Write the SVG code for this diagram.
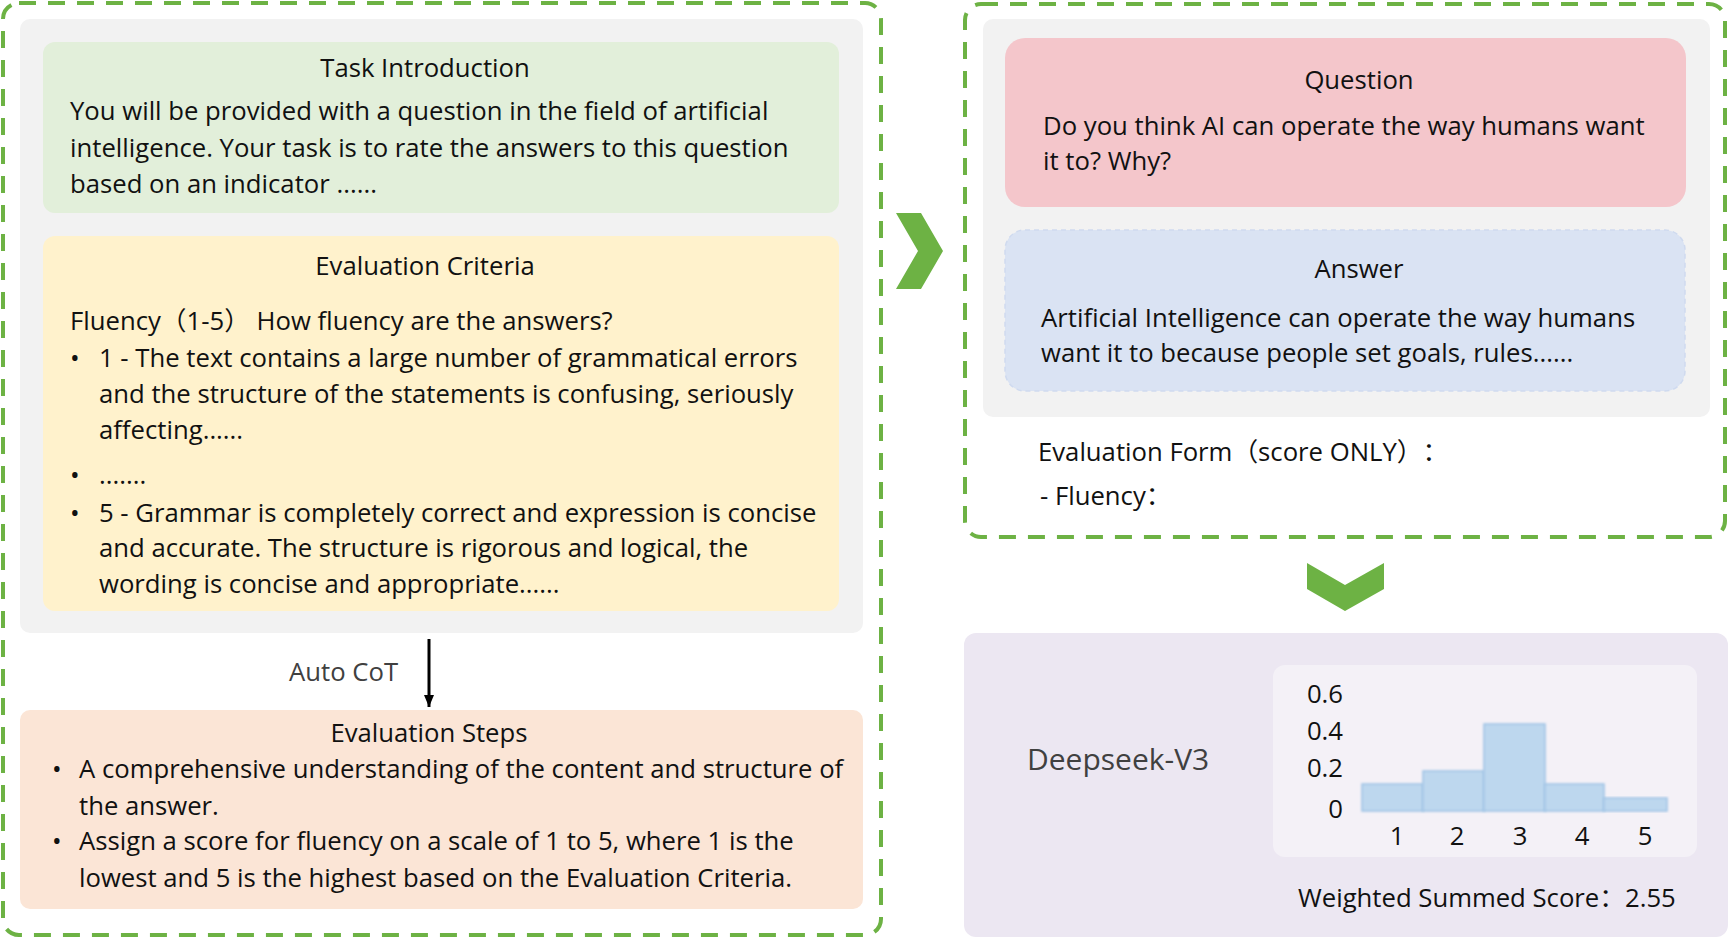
<svg xmlns="http://www.w3.org/2000/svg" width="1728" height="939" viewBox="0 0 1728 939">
<style>
text{font-family:"Open Sans","Noto Sans","Noto Sans CJK SC",sans-serif;font-size:25.7px;fill:#111;text-spacing-trim:space-all;}
.t{text-anchor:middle;}
.g{fill:#404040;}
.dash{fill:none;stroke:#6db244;stroke-width:4;stroke-dasharray:17 12;}
.bar{fill:#bdd7ee;stroke:#9cc2e5;stroke-width:1.5;filter:url(#soft);}
</style>
<defs>
<filter id="soft" x="-10%" y="-10%" width="120%" height="120%"><feGaussianBlur stdDeviation="0.9"/></filter>
<marker id="ah" markerWidth="12" markerHeight="12" refX="12" refY="6" orient="auto" markerUnits="userSpaceOnUse" viewBox="0 0 12 12"><path d="M0,1 L12,6 L0,11 Z" fill="#000"/></marker>
</defs>
<rect width="1728" height="939" fill="#fff"/>

<g id="left-frame">
<rect class="dash" x="3" y="3" width="878" height="932" rx="16"/>
<rect x="20" y="19" width="843" height="614" rx="10" fill="#f2f2f2"/>
</g>

<g id="task-introduction">
<rect x="43" y="42" width="796" height="171" rx="12" fill="#e2efda"/>
<text class="t" x="425" y="77">Task Introduction</text>
<text x="70" y="120">You will be provided with a question in the field of artificial</text>
<text x="70" y="157">intelligence. Your task is to rate the answers to this question</text>
<text x="70" y="193">based on an indicator ......</text>
</g>

<g id="evaluation-criteria">
<rect x="43" y="236" width="796" height="375" rx="12" fill="#fff2cc"/>
<text class="t" x="425" y="275">Evaluation Criteria</text>
<text x="70" y="330">Fluency（1-5） How fluency are the answers?</text>
<text x="70" y="367">•</text>
<text x="99" y="367">1 - The text contains a large number of grammatical errors</text>
<text x="99" y="403">and the structure of the statements is confusing, seriously</text>
<text x="99" y="439">affecting......</text>
<text x="70" y="484">•</text>
<text x="99" y="484">.......</text>
<text x="70" y="522">•</text>
<text x="99" y="522">5 - Grammar is completely correct and expression is concise</text>
<text x="99" y="557">and accurate. The structure is rigorous and logical, the</text>
<text x="99" y="593">wording is concise and appropriate......</text>
</g>

<g id="evaluation-steps">
<rect x="20" y="710" width="843" height="199" rx="10" fill="#fbe5d6"/>
<text class="t" x="429" y="742">Evaluation Steps</text>
<text x="52" y="778">•</text>
<text x="79" y="778">A comprehensive understanding of the content and structure of</text>
<text x="79" y="815">the answer.</text>
<text x="52" y="850">•</text>
<text x="79" y="850">Assign a score for fluency on a scale of 1 to 5, where 1 is the</text>
<text x="79" y="887">lowest and 5 is the highest based on the Evaluation Criteria.</text>
</g>

<g id="right-frame">
<rect class="dash" x="965" y="4" width="760" height="533" rx="16"/>
<rect x="983" y="19" width="727" height="398" rx="10" fill="#f2f2f2"/>
</g>

<g id="question">
<rect x="1005" y="38" width="681" height="169" rx="20" fill="#f4c6cb"/>
<text class="t" x="1359" y="89">Question</text>
<text x="1043" y="135">Do you think AI can operate the way humans want</text>
<text x="1043" y="170">it to? Why?</text>
</g>

<g id="answer">
<rect x="1005" y="230" width="680" height="161" rx="20" fill="#dae3f3" stroke="#cfdaef" stroke-width="1.5" stroke-dasharray="5 4"/>
<text class="t" x="1359" y="278">Answer</text>
<text x="1041" y="327">Artificial Intelligence can operate the way humans</text>
<text x="1041" y="362">want it to because people set goals, rules......</text>
</g>

<g id="evaluation-form">
<text x="1038" y="461">Evaluation Form（score ONLY）：</text>
<text x="1040" y="505">- Fluency：</text>
</g>

<g id="result">
<rect x="964" y="633" width="764" height="304" rx="12" fill="#ece7f2"/>
<text class="g" x="1027" y="770" style="font-size:30px">Deepseek-V3</text>
<rect x="1273" y="665" width="424" height="192" rx="12" fill="#f4f1f7"/>
<g id="chart">
<rect class="bar" x="1362" y="784" width="61" height="27"/>
<rect class="bar" x="1423" y="771" width="61" height="40"/>
<rect class="bar" x="1484" y="724" width="61" height="87"/>
<rect class="bar" x="1545" y="784" width="59" height="27"/>
<rect class="bar" x="1604" y="798" width="63" height="13"/>
<g style="text-anchor:end">
<text x="1343" y="703">0.6</text>
<text x="1343" y="740">0.4</text>
<text x="1343" y="777">0.2</text>
<text x="1343" y="818">0</text>
</g>
<g>
<text class="t" x="1397" y="845">1</text>
<text class="t" x="1457" y="845">2</text>
<text class="t" x="1520" y="845">3</text>
<text class="t" x="1582" y="845">4</text>
<text class="t" x="1645" y="845">5</text>
</g>
</g>
<text x="1298" y="907">Weighted Summed Score：2.55</text>
</g>

<g id="connectors">
<line x1="429" y1="639" x2="429" y2="707" stroke="#000" stroke-width="3" marker-end="url(#ah)"/>
<text class="g" x="289" y="681">Auto CoT</text>
<polygon points="896,213 921,213 943,251 921,289 896,289 918,251" fill="#6db244"/>
<polygon points="1307,563 1345,585 1384,563 1384,589 1345,611 1307,589" fill="#6db244"/>
</g>
</svg>
